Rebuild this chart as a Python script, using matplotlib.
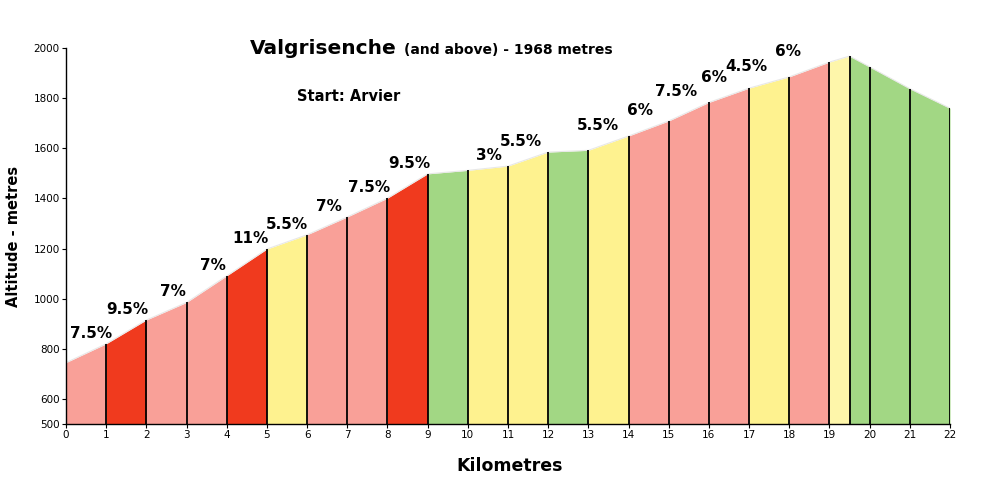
import matplotlib
matplotlib.use("Agg")
import matplotlib.pyplot as plt

# profile points (km, altitude in metres)
km = [0, 1, 2, 3, 4, 5, 6, 7, 8, 9, 10, 11, 12, 13, 14, 15, 16, 17, 18, 19, 19.5, 20, 21, 22]
alt = [745, 820, 915, 985, 1091, 1198, 1255, 1326, 1401, 1498, 1512, 1529, 1585, 1592,
       1649, 1709, 1783, 1840, 1885, 1944, 1968, 1925, 1838, 1760]

# gradient class of each segment (between consecutive points)
seg_class = ["pink", "red", "pink", "pink", "red", "yellow", "pink", "pink", "red",
             "green", "yellow", "yellow", "green", "yellow", "pink", "pink", "pink",
             "yellow", "pink", "pale", "green", "green", "green"]

# gradient labels: text and centre position (km) above the segment end
grad_text = ["7.5%", "9.5%", "7%", "7%", "11%", "5.5%", "7%", "7.5%", "9.5%",
             "3%", "5.5%", "5.5%", "6%", "7.5%", "6%", "4.5%", "6%"]
grad_km = [0.62, 1.53, 2.65, 3.66, 4.58, 5.5, 6.55, 7.55, 8.55,
           10.53, 11.32, 13.24, 14.29, 15.18, 16.13, 16.92, 17.97]
grad_end = [1, 2, 3, 4, 5, 6, 7, 8, 9, 11, 12, 14, 15, 16, 17, 18, 19]

yticks = [500, 600, 800, 1000, 1200, 1400, 1600, 1800, 2000]
xticks = list(range(0, 23))

colors = {"pink": "#F9A098", "red": "#F03A1E", "yellow": "#FEF28F",
          "green": "#A2D784", "pale": "#FEF6AA"}

plt.rcParams["font.family"] = ["DejaVu Sans"]

fig = plt.figure(figsize=(10, 4.82), dpi=100)
ax = fig.add_axes([0.066, 0.1203, 0.884, 0.780])

for i, c in enumerate(seg_class):
    ax.fill_between(km[i:i + 2], [500, 500], alt[i:i + 2], color=colors[c], lw=0)
ax.plot(km, alt, color="#e8e8e8", lw=0.8)
ax.vlines(km, 500, alt, color="black", lw=1.3)

for t, x, e in zip(grad_text, grad_km, grad_end):
    ax.text(x, alt[km.index(e)] + 25, t, ha="center", va="baseline",
            fontsize=11, fontweight="bold")

ax.set_xlim(0, 22)
ax.set_ylim(500, 2000)
ax.set_xticks(xticks)
ax.set_yticks(yticks)
ax.tick_params(axis="both", labelsize=7.5, length=3, width=0.8, pad=1.5)
for s in ["top", "right"]:
    ax.spines[s].set_visible(False)
ax.spines["left"].set_linewidth(1)
ax.spines["bottom"].set_linewidth(1)

fig.text(0.014, 0.51, "Altitude - metres", rotation=90, ha="center", va="center",
         fontsize=10.5, fontweight="bold")
fig.text(0.51, 0.033, "Kilometres", ha="center", va="center",
         fontsize=12.5, fontweight="bold")

# title: big name, then the smaller part right after it
t1 = fig.text(0.25, 0.887, "Valgrisenche", fontsize=14.5, fontweight="bold", va="baseline")
r = fig.canvas.get_renderer()
bb = t1.get_window_extent(renderer=r)
fig.text((bb.x1 + 7) / fig.bbox.width, 0.887, "(and above) - 1968 metres",
         fontsize=10, fontweight="bold", va="baseline")
fig.text(0.297, 0.790, "Start: Arvier", fontsize=10.5, fontweight="bold", va="baseline")

fig.savefig("out.png", dpi=100)
